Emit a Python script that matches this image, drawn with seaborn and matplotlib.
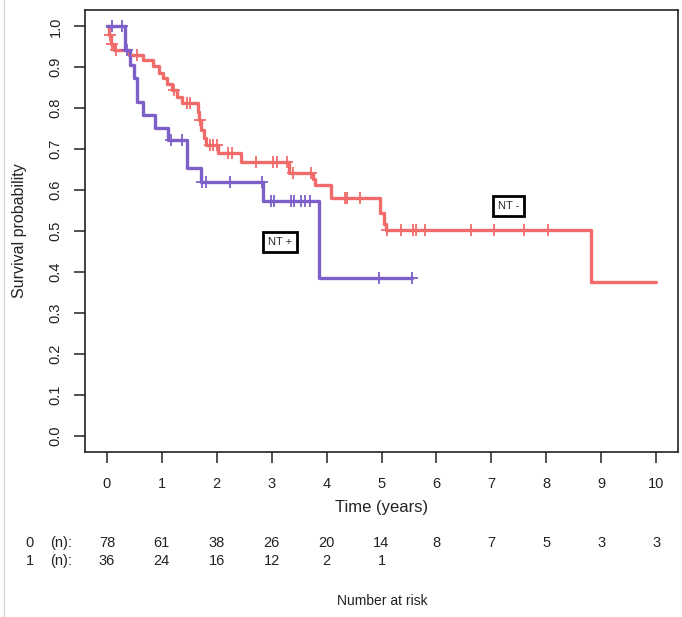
import numpy as np
import pandas as pd
import matplotlib
matplotlib.use('Agg')
import matplotlib.pyplot as plt
import matplotlib.transforms as mtransforms
from matplotlib.lines import Line2D
import seaborn as sns

# ---- data ----
groups = ['0', '1']
group_labels = ['NT -', 'NT +']

red_times = [0, 0.03, 0.07, 0.12, 0.40, 0.66, 0.84, 0.95, 1.02, 1.10, 1.18, 1.28, 1.36,
             1.65, 1.68, 1.72, 1.76, 1.80, 2.03, 2.45, 3.31, 3.75, 3.79, 4.08, 4.97,
             5.04, 5.08, 8.81, 10.0]
red_surv = [1.0, 0.978, 0.958, 0.943, 0.931, 0.919, 0.903, 0.887, 0.874, 0.860, 0.844,
            0.828, 0.813, 0.790, 0.771, 0.747, 0.727, 0.710, 0.690, 0.668, 0.642, 0.628,
            0.613, 0.580, 0.544, 0.516, 0.502, 0.376, 0.376]
red_censor = [0.05, 0.10, 0.16, 0.55, 1.22, 1.45, 1.52, 1.70, 1.88, 1.94, 2.00, 2.20,
              2.28, 2.72, 3.02, 3.09, 3.27, 3.39, 3.72, 4.33, 4.37, 4.60, 5.10, 5.36,
              5.57, 5.63, 5.80, 6.63, 7.05, 7.60, 8.04]

blue_times = [0, 0.33, 0.42, 0.50, 0.55, 0.66, 0.87, 1.12, 1.45, 1.71, 2.84, 3.87, 5.55]
blue_surv = [1.0, 0.942, 0.905, 0.873, 0.816, 0.783, 0.751, 0.723, 0.654, 0.620, 0.574,
             0.385, 0.385]
blue_censor = [0.10, 0.27, 0.37, 1.16, 1.36, 1.73, 1.81, 2.24, 2.82, 2.99, 3.05, 3.36,
               3.40, 3.54, 3.61, 3.69, 4.95, 5.55]

risk_times = list(range(0, 11))
risk_0 = [78, 61, 38, 26, 20, 14, 8, 7, 5, 3, 3]
risk_1 = [36, 24, 16, 12, 2, 1]

x_ticks = list(range(0, 11))
y_ticks = [round(0.1 * i, 1) for i in range(11)]

# ---- style ----
sns.set_theme(style='white')
plt.rcParams['font.family'] = ['Liberation Sans', 'DejaVu Sans']

colors = {'0': '#F26B6B', '1': '#7D5FC9'}

fig = plt.figure(figsize=(6.82, 6.17), dpi=100)
W, H = 682, 617
ax = fig.add_axes([85 / W, 1 - 452 / H, (678 - 85) / W, (452 - 10) / H])

curves = pd.concat([
    pd.DataFrame({'time': red_times, 'surv': red_surv, 'group': '0'}),
    pd.DataFrame({'time': blue_times, 'surv': blue_surv, 'group': '1'}),
], ignore_index=True)


def step_value(times, surv, t):
    i = np.searchsorted(np.asarray(times), t, side='right') - 1
    return np.asarray(surv)[i]


cens = pd.concat([
    pd.DataFrame({'time': red_censor,
                  'surv': [step_value(red_times, red_surv, c) for c in red_censor],
                  'group': '0'}),
    pd.DataFrame({'time': blue_censor,
                  'surv': [step_value(blue_times, blue_surv, c) for c in blue_censor],
                  'group': '1'}),
], ignore_index=True)

sns.lineplot(data=curves, x='time', y='surv', hue='group', hue_order=groups,
             palette=colors, drawstyle='steps-post', estimator=None, sort=False,
             lw=2.4, legend=False, ax=ax)
for g in groups:
    sub = cens[cens['group'] == g]
    sns.scatterplot(data=sub, x='time', y='surv', color=colors[g], marker='+',
                    s=80, linewidth=1.3, legend=False, ax=ax, zorder=3)

ax.set_xlim(-0.4, 10.4)
ax.set_ylim(-0.04, 1.04)
ax.set_xticks(x_ticks)
ax.set_xticklabels([str(t) for t in x_ticks])
ax.set_yticks(y_ticks)
ax.set_yticklabels([f'{v:.1f}' for v in y_ticks], rotation=90, va='center')

for sp in ax.spines.values():
    sp.set_visible(True)
    sp.set_color('#222222')
    sp.set_linewidth(1.2)

ax.tick_params(axis='both', direction='out', length=8, width=1.1, color='#222222',
               labelcolor='#222222', labelsize=10.5, bottom=True, left=True)
ax.tick_params(axis='x', pad=10)
ax.tick_params(axis='y', pad=8)

ax.set_xlabel('Time (years)', fontsize=12, color='#222222')
ax.set_ylabel('Survival probability', fontsize=11.5, color='#222222')
ax.xaxis.set_label_coords(0.5, -0.108)
ax.yaxis.set_label_coords(-0.098, 0.5)

box = dict(boxstyle='square,pad=0.45', fc='white', ec='black', lw=2.0)
ax.text(7.31, 0.562, group_labels[0], ha='center', va='center', fontsize=8, bbox=box)
ax.text(3.15, 0.474, group_labels[1], ha='center', va='center', fontsize=8, bbox=box)

# ---- number-at-risk table ----
trans = mtransforms.blended_transform_factory(ax.transData, fig.transFigure)
rows = [(risk_0, 543), (risk_1, 561)]
for (vals, ypix), g in zip(rows, groups):
    yf = 1 - ypix / H
    fig.text(30 / W, yf, g, ha='center', va='center', fontsize=10.5, color='#222222')
    fig.text(61 / W, yf, '(n):', ha='center', va='center', fontsize=10.5, color='#222222')
    for t, v in zip(risk_times, vals):
        ax.text(t, yf, str(v), transform=trans, ha='center', va='center',
                fontsize=10.5, color='#222222', clip_on=False)

fig.text(382 / W, 1 - 601 / H, 'Number at risk', ha='center', va='center',
         fontsize=10, color='#222222')

fig.add_artist(Line2D([3.5 / W, 3.5 / W], [0, 1], transform=fig.transFigure,
                      color='#d8d8d8', lw=1))

fig.savefig('out.png', dpi=100)
